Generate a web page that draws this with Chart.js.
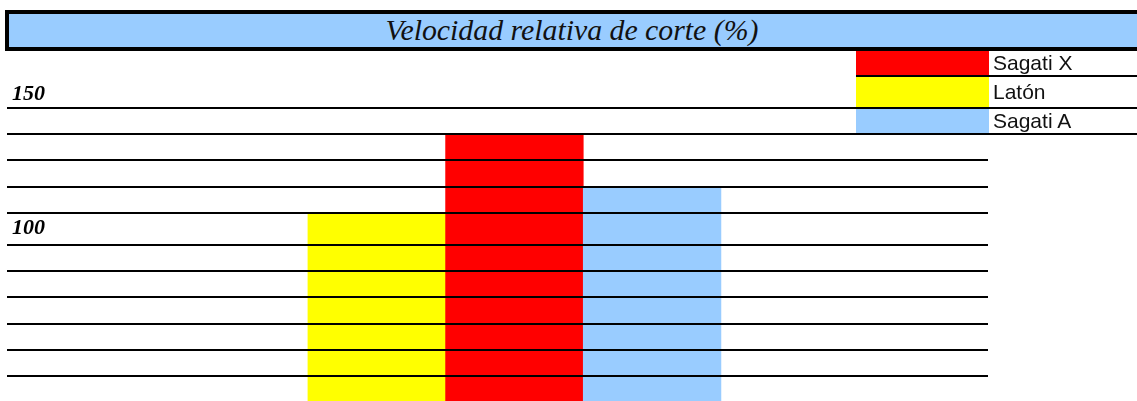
<!DOCTYPE html>
<html>
<head>
<meta charset="utf-8">
<script src="https://cdn.jsdelivr.net/npm/chart.js@4/dist/chart.umd.min.js"></script>
<style>
  html, body { margin: 0; padding: 0; background: #fff; width: 1137px; height: 401px; overflow: hidden; }
  #wrap { position: relative; width: 1137px; height: 401px; }
  #chart { position: absolute; left: 0; top: 0; }
  .title-bar {
    position: absolute; left: 5px; top: 10px; width: 1160px; height: 33px;
    background: #99ccff; border: 4px solid #000; border-right: none;
  }
  .title-bar span {
    position: absolute; left: 563px; top: 0; transform: translateX(-50%); white-space: nowrap;
    font: italic 29.8px "Liberation Serif", "Times New Roman", serif; line-height: 31px; color: #111;
  }
  .legend { position: absolute; left: 856px; top: 51px; width: 281px; }
  .legend .row { display: flex; border-bottom: 2px solid #000; }
  .legend .sw { width: 133px; }
  .legend .lbl { padding-left: 4px; font: 21px "Liberation Sans", Arial, sans-serif; color: #111; }
</style>
</head>
<body>
<div id="wrap">
  <canvas id="chart" width="1137" height="401"></canvas>
  <div class="title-bar"><span id="title"></span></div>
  <div class="legend" id="legend"></div>
</div>
<script>
// --- data ---
const chartTitle = 'Velocidad relativa de corte (%)';
const categories = ['Latón', 'Sagati X', 'Sagati A'];
const values = [100, 130, 110];
const barColors = ['#ffff00', '#ff0000', '#99ccff'];
const barSlots = [0, 1, 2];

// horizontal rules and the two axis labels (in axis units)
const gridValues = [140, 130, 120, 110, 100, 88, 78, 68, 58, 48, 38];
const axisLabelValues = [145.2, 94.2];
const axisLabelTexts = ['150', '100'];

// legend order as in the table at the right
const legendOrder = ['Sagati X', 'Latón', 'Sagati A'];
const legendRowHeights = [24, 30, 24];

document.getElementById('title').textContent = chartTitle;

document.getElementById('legend').innerHTML = legendOrder.map((name, i) => {
  const c = barColors[categories.indexOf(name)];
  const h = legendRowHeights[i];
  return `<div class="row" style="height:${h}px">
    <div class="sw" style="background:${c}"></div>
    <div class="lbl" style="line-height:${h}px">${name}</div>
  </div>`;
}).join('');

new Chart(document.getElementById('chart'), {
  type: 'bar',
  data: {
    datasets: [{
      data: barSlots.map((x, i) => ({ x, y: values[i] })),
      backgroundColor: barColors,
      borderWidth: 0,
      barPercentage: 1,
      categoryPercentage: 1,
    }]
  },
  options: {
    responsive: false,
    animation: false,
    devicePixelRatio: 1,
    layout: { padding: { left: 7, right: 149, top: 51, bottom: 0 } },
    plugins: { legend: { display: false }, tooltip: { enabled: false } },
    scales: {
      x: {
        type: 'linear', display: false, offset: false,
        min: -2.686, max: 4.44,
        afterBuildTicks: s => { s.ticks = barSlots.map(v => ({ value: v })); },
      },
      y: {
        min: 28.61, max: 161.52,
        border: { display: false },
        afterFit: s => { s.width = 0; s.paddingTop = 0; s.paddingBottom = 0; s.paddingLeft = 0; s.paddingRight = 0; },
        afterBuildTicks: s => { s.ticks = [...gridValues, ...axisLabelValues].map(v => ({ value: v })); },
        grid: {
          z: 1,
          drawTicks: false,
          lineWidth: 2,
          color: ctx => gridValues.includes(ctx.tick && ctx.tick.value) ? '#000' : 'rgba(0,0,0,0)',
        },
        ticks: {
          z: 2, mirror: true, padding: 5, autoSkip: false, color: '#000',
          font: { family: '"Liberation Serif", "Times New Roman", serif', size: 22, style: 'italic', weight: 'bold' },
          callback: (v) => {
            const k = axisLabelValues.indexOf(v);
            return k >= 0 ? axisLabelTexts[k] : '';
          },
        },
      },
    },
  },
});
</script>
</body>
</html>
